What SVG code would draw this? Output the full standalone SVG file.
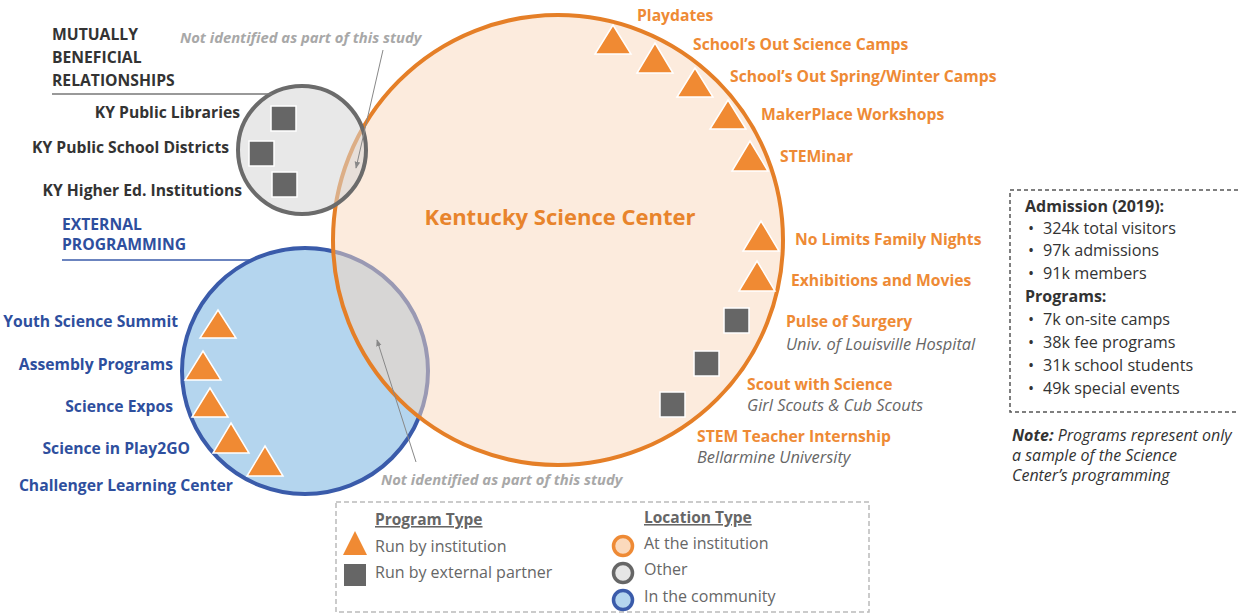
<svg xmlns="http://www.w3.org/2000/svg" width="1239" height="614" viewBox="0 0 1239 614">
<style>
text{font-family:"Open Sans",Lato,"Liberation Sans",sans-serif}
.hd{font-weight:bold;font-size:15.7px;fill:#333}
.bh{font-weight:bold;font-size:15.7px;fill:#2E4F9E}
.ol{font-weight:bold;font-size:15.7px;fill:#EE8A35}
.sub{font-style:italic;font-size:16.4px;fill:#666}
.ni{font-weight:bold;font-style:italic;font-size:14.8px;fill:#A8A8A8}
.st{font-size:16.2px;fill:#333}
.stb{font-size:16px;fill:#333;font-weight:bold}
.nt{font-size:16px;fill:#333;font-style:italic}
.lg{font-size:16px;fill:#666}
.lgh{font-size:15.5px;fill:#666;font-weight:bold;text-decoration:underline}
.tri{fill:#F08A33;stroke:#fff;stroke-width:1.5}
.sq{fill:#666;stroke:#fff;stroke-width:1.5}
.conn{stroke:#888;stroke-width:1;fill:none}
</style>
<defs>
<marker id="ah" viewBox="0 0 10 10" refX="9" refY="5" markerWidth="7" markerHeight="7" orient="auto">
<path d="M0,1 L10,5 L0,9 z" fill="#888"/>
</marker>
</defs>
<rect width="1239" height="614" fill="#fff"/>

<g id="community-circle">
<circle cx="305" cy="371" r="123" fill="#B4D5EE" stroke="#3A5BAA" stroke-width="4"/>
</g>
<g id="institution-circle">
<circle cx="558" cy="240" r="225" fill="#F9D7BB" fill-opacity="0.5" stroke="none"/>
<circle cx="558" cy="240" r="225" fill="none" stroke="#E57F27" stroke-width="4"/>
<text x="560" y="225" text-anchor="middle" style="font-weight:bold;font-size:22px;fill:#E8842C">Kentucky Science Center</text>
</g>
<g id="other-circle">
<circle cx="302" cy="150" r="64" fill="#D5D6D6" fill-opacity="0.55" stroke="#6B6B6B" stroke-width="4"/>
</g>

<g id="mutual-heading">
<text class="hd" x="52" y="40">MUTUALLY</text>
<text class="hd" x="52" y="63">BENEFICIAL</text>
<text class="hd" x="52" y="86">RELATIONSHIPS</text>
<line x1="52" y1="94" x2="272" y2="94" stroke="#777" stroke-width="1.5"/>
</g>
<g id="external-heading">
<text class="bh" x="62" y="230">EXTERNAL</text>
<text class="bh" x="62" y="250">PROGRAMMING</text>
<line x1="62" y1="260" x2="254" y2="260" stroke="#3A5BAA" stroke-width="1.5"/>
</g>

<g id="ky-libraries"><rect class="sq" x="271" y="106" width="25" height="25"/><text class="hd" x="240" y="118" text-anchor="end">KY Public Libraries</text></g>
<g id="ky-schools"><rect class="sq" x="249" y="141" width="25" height="25"/><text class="hd" x="229" y="153" text-anchor="end">KY Public School Districts</text></g>
<g id="ky-higher-ed"><rect class="sq" x="272" y="172" width="25" height="25"/><text class="hd" x="242" y="196" text-anchor="end">KY Higher Ed. Institutions</text></g>

<g id="youth-summit"><polygon class="tri" points="218,310 236,338 200,338"/><text class="bh" x="178" y="327" text-anchor="end">Youth Science Summit</text></g>
<g id="assembly"><polygon class="tri" points="203,351 221,380 185,380"/><text class="bh" x="173" y="370" text-anchor="end">Assembly Programs</text></g>
<g id="expos"><polygon class="tri" points="210,388 228,417 192,417"/><text class="bh" x="173" y="412" text-anchor="end">Science Expos</text></g>
<g id="play2go"><polygon class="tri" points="231,423 249,453 213,453"/><text class="bh" x="190" y="454" text-anchor="end">Science in Play2GO</text></g>
<g id="challenger"><polygon class="tri" points="265,446 283,476 247,476"/><text class="bh" x="233" y="491" text-anchor="end">Challenger Learning Center</text></g>

<g id="playdates"><polygon class="tri" points="613,25 631,54 595,54"/><text class="ol" x="637" y="21">Playdates</text></g>
<g id="sos-camps"><polygon class="tri" points="655,43 673,73 637,73"/><text class="ol" x="693" y="50">School’s Out Science Camps</text></g>
<g id="sos-spring"><polygon class="tri" points="695,68 713,97 677,97"/><text class="ol" x="730" y="82">School’s Out Spring/Winter Camps</text></g>
<g id="makerplace"><polygon class="tri" points="728,100 746,129 710,129"/><text class="ol" x="761" y="120">MakerPlace Workshops</text></g>
<g id="steminar"><polygon class="tri" points="750,141 768,171 732,171"/><text class="ol" x="780" y="162">STEMinar</text></g>
<g id="no-limits"><polygon class="tri" points="761,221 779,251 743,251"/><text class="ol" x="795" y="245">No Limits Family Nights</text></g>
<g id="exhibitions"><polygon class="tri" points="757,261 775,291 739,291"/><text class="ol" x="791" y="286">Exhibitions and Movies</text></g>
<g id="pulse"><rect class="sq" x="724" y="308" width="25" height="25"/><text class="ol" x="786" y="327">Pulse of Surgery</text><text class="sub" x="786" y="350">Univ. of Louisville Hospital</text></g>
<g id="scout"><rect class="sq" x="694" y="351" width="25" height="25"/><text class="ol" x="747" y="390">Scout with Science</text><text class="sub" x="747" y="411">Girl Scouts &amp; Cub Scouts</text></g>
<g id="stem-teacher"><rect class="sq" x="660" y="392" width="25" height="25"/><text class="ol" x="697" y="442">STEM Teacher Internship</text><text class="sub" x="697" y="463">Bellarmine University</text></g>

<g id="connectors">
<line class="conn" x1="383" y1="50" x2="356" y2="168" marker-end="url(#ah)"/>
<line class="conn" x1="416" y1="462" x2="377" y2="340" marker-end="url(#ah)"/>
</g>
<g id="not-identified-top"><text class="ni" x="180" y="43">Not identified as part of this study</text></g>
<g id="not-identified-bottom"><text class="ni" x="381" y="485">Not identified as part of this study</text></g>

<g id="stats">
<rect x="1010" y="190" width="240" height="222" fill="none" stroke="#555" stroke-width="1.5" stroke-dasharray="4,3"/>
<text class="stb" x="1025" y="212">Admission (2019):</text>
<text class="st" x="1028" y="234">•</text><text class="st" x="1043" y="234">324k total visitors</text>
<text class="st" x="1028" y="256">•</text><text class="st" x="1043" y="256">97k admissions</text>
<text class="st" x="1028" y="279">•</text><text class="st" x="1043" y="279">91k members</text>
<text class="stb" x="1025" y="302">Programs:</text>
<text class="st" x="1028" y="325">•</text><text class="st" x="1043" y="325">7k on-site camps</text>
<text class="st" x="1028" y="348">•</text><text class="st" x="1043" y="348">38k fee programs</text>
<text class="st" x="1028" y="371">•</text><text class="st" x="1043" y="371">31k school students</text>
<text class="st" x="1028" y="394">•</text><text class="st" x="1043" y="394">49k special events</text>
</g>
<g id="note">
<text class="nt" x="1012" y="441"><tspan font-weight="bold">Note:</tspan> Programs represent only</text>
<text class="nt" x="1012" y="461">a sample of the Science</text>
<text class="nt" x="1012" y="481">Center’s programming</text>
</g>

<g id="legend">
<rect x="336" y="502" width="533" height="110" fill="none" stroke="#BBB" stroke-width="1.5" stroke-dasharray="5,3"/>
<text class="lgh" x="375" y="525">Program Type</text>
<polygon points="355,531 367,555 343,555" fill="#F08A33"/>
<text class="lg" x="375" y="552">Run by institution</text>
<rect x="344" y="564" width="22" height="22" fill="#666"/>
<text class="lg" x="375" y="578">Run by external partner</text>
<text class="lgh" x="644" y="523">Location Type</text>
<circle cx="623" cy="546" r="9.5" fill="#FBD9BC" stroke="#EE8A35" stroke-width="3.5"/>
<text class="lg" x="644" y="549">At the institution</text>
<circle cx="623" cy="573" r="9.5" fill="#E6E6E6" stroke="#666" stroke-width="3.5"/>
<text class="lg" x="644" y="575">Other</text>
<circle cx="623" cy="600" r="9.5" fill="#B4D5EE" stroke="#3A5BAA" stroke-width="3.5"/>
<text class="lg" x="644" y="602">In the community</text>
</g>
</svg>
